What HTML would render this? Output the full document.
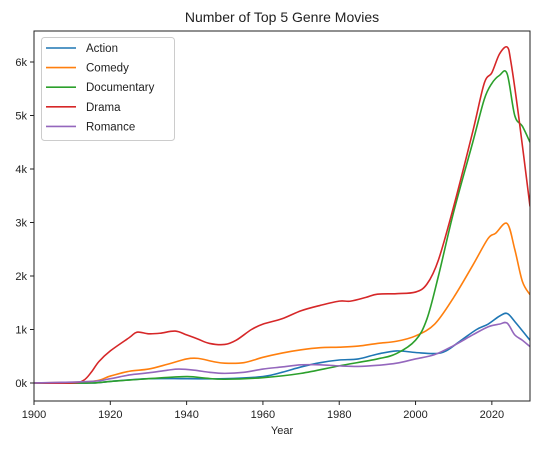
<!DOCTYPE html>
<html><head><meta charset="utf-8"><style>
body{margin:0;background:#fff;font-family:"Liberation Sans","DejaVu Sans",sans-serif}
svg text{font-family:"Liberation Sans","DejaVu Sans",sans-serif;fill:#222}
</style></head><body>
<svg id="c" width="540" height="449"></svg>
<script>
const years = {
 action:[1900,1915,1920,1930,1940,1950,1960,1965,1970,1975,1980,1985,1990,1995,2000,2005,2008,2012,2016,2019,2022,2024,2026,2030],
 comedy:[1900,1915,1920,1925,1930,1935,1940,1943,1947,1950,1955,1960,1965,1970,1975,1980,1985,1990,1995,2000,2005,2010,2015,2019,2021,2024,2026,2028,2030],
 documentary:[1900,1915,1920,1930,1940,1945,1950,1960,1970,1980,1990,1995,2000,2003,2006,2010,2015,2018,2020,2022,2024,2026,2028,2030],
 drama:[1900,1910,1913,1915,1917,1920,1925,1927,1930,1933,1937,1940,1943,1946,1950,1953,1957,1960,1965,1970,1975,1980,1983,1987,1990,1995,2000,2003,2006,2010,2015,2018,2020,2022,2024,2025,2027,2030],
 romance:[1900,1915,1920,1925,1930,1935,1938,1942,1946,1950,1955,1960,1965,1970,1975,1980,1985,1990,1995,2000,2005,2010,2015,2019,2022,2024,2026,2028,2030]
};
const actionVals=[0,0,30,80,80,80,120,200,300,380,430,450,540,600,570,550,600,800,1000,1100,1250,1300,1150,800];
const comedyVals=[0,30,130,220,260,350,450,460,400,370,380,480,560,620,660,670,690,740,780,880,1100,1600,2200,2700,2800,2980,2500,1900,1650];
const documentaryVals=[0,0,30,80,120,90,70,100,180,320,450,550,800,1200,2000,3200,4500,5300,5600,5750,5780,5000,4800,4500];
const dramaVals=[0,0,50,200,400,600,850,950,920,930,970,900,820,740,720,800,1000,1100,1200,1350,1450,1530,1530,1600,1660,1670,1700,1850,2300,3300,4700,5600,5800,6150,6280,6000,5000,3300];
const romanceVals=[0,30,80,150,190,240,260,240,200,180,200,260,300,340,340,320,310,330,370,450,530,700,900,1050,1100,1120,900,800,680];
const xTicks=[1900,1920,1940,1960,1980,2000,2020];
const yTicks=[0,1000,2000,3000,4000,5000,6000];
const yLabels=["0k","1k","2k","3k","4k","5k","6k"];
const names=["Action","Comedy","Documentary","Drama","Romance"];
const keys=["action","comedy","documentary","drama","romance"];
const colors=["#1f77b4","#ff7f0e","#2ca02c","#d62728","#9467bd"];
const vals=[actionVals,comedyVals,documentaryVals,dramaVals,romanceVals];
const L=34,R=530,T=31,B=401;
const x=v=>L+(v-1900)/(2030-1900)*(R-L);
const y=v=>383-v*(383-62)/6000;
const svg=document.getElementById('c');
const NS='http://www.w3.org/2000/svg';
function mk(t,a,p){const e=document.createElementNS(NS,t);for(const k in a)e.setAttribute(k,a[k]);(p||svg).appendChild(e);return e;}
let t=mk('text',{x:(L+R)/2,y:22,'text-anchor':'middle','font-size':14});t.textContent='Number of Top 5 Genre Movies';


const clip=mk('clipPath',{id:'cp'});mk('rect',{x:L,y:T,width:R-L,height:B-T},clip);
vals.forEach((v,i)=>{
 const ys=years[keys[i]];const pts=ys.map((yr,j)=>[x(yr),y(v[j])]);
 let d='M'+pts[0][0]+','+pts[0][1];
 for(let j=0;j<pts.length-1;j++){const p0=pts[Math.max(0,j-1)],p1=pts[j],p2=pts[j+1],p3=pts[Math.min(pts.length-1,j+2)];
  d+=` C${p1[0]+(p2[0]-p0[0])/6},${p1[1]+(p2[1]-p0[1])/6} ${p2[0]-(p3[0]-p1[0])/6},${p2[1]-(p3[1]-p1[1])/6} ${p2[0]},${p2[1]}`;}
 const p=mk('path',{d:d,fill:'none',stroke:colors[i],'stroke-width':1.6,'clip-path':'url(#cp)'});
 
 
});
const ax=mk('rect',{x:L,y:T,width:R-L,height:B-T,fill:'none',stroke:'#222','stroke-width':1});


xTicks.forEach(v=>{mk('line',{x1:x(v),x2:x(v),y1:B,y2:B+4,stroke:'#222'});
 const e=mk('text',{x:x(v),y:B+17,'text-anchor':'middle','font-size':11});e.textContent=v;
 
 });
yTicks.forEach((v,i)=>{mk('line',{x1:L-4,x2:L,y1:y(v),y2:y(v),stroke:'#222'});
 const e=mk('text',{x:L-7,y:y(v)+4,'text-anchor':'end','font-size':11});e.textContent=yLabels[i];
 
 });
t=mk('text',{x:(L+R)/2,y:434,'text-anchor':'middle','font-size':11});t.textContent='Year';


const lg=mk('g',{});


mk('rect',{x:41.5,y:37.5,width:133,height:103,rx:3,fill:'#fff','fill-opacity':0.85,stroke:'#ccc'},lg);
names.forEach((n,i)=>{const yy=48+i*19.6;
 const g=mk('g',{},lg);
 
 
 mk('line',{x1:46,x2:76,y1:yy,y2:yy,stroke:colors[i],'stroke-width':1.6},g);
 const e=mk('text',{x:86,y:yy+4,'font-size':11.5},g);e.textContent=n;});
</script>
</body></html>
